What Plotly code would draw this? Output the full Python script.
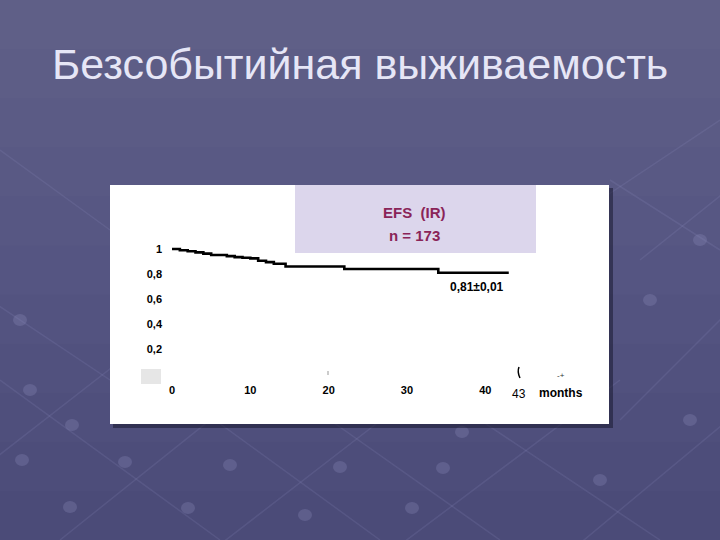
import plotly.graph_objects as go

# ---- data ----
months = [0, 1, 2, 3, 4, 5, 7, 8, 9, 10, 11, 12, 13, 14.5, 22, 34, 43]
efs = [1.0, 0.99, 0.982, 0.973, 0.963, 0.952, 0.943, 0.935, 0.93, 0.925,
       0.906, 0.895, 0.882, 0.86, 0.84, 0.81, 0.81]
x_ticks = [0, 10, 20, 30, 40]
y_ticks = [0.2, 0.4, 0.6, 0.8, 1.0]
y_ticktext = ["0,2", "0,4", "0,6", "0,8", "1"]
title_text = "Безсобытийная выживаемость"
box_line1 = "EFS\u00a0\u00a0(IR)"
box_line2 = "n = 173"
final_label = "0,81±0,01"

W, H = 720, 540
def px(x):
    return x / W
def py(y):
    return (H - y) / H

FONT = "Liberation Sans, Arial, sans-serif"

fig = go.Figure()
fig.add_trace(go.Scatter(x=months, y=efs, mode="lines", line=dict(color="black", width=2.6, shape="hv"),
                         showlegend=False, hoverinfo="skip"))

shapes = []
# soft vertical gradient on the slide background
for k in range(1, 11):
    shapes.append(dict(type="rect", xref="paper", yref="paper", x0=0, y0=py(H * k / 11), x1=1, y1=1,
                       fillcolor="rgba(255,255,255,0.014)", line=dict(width=0), layer="below"))
# decorative lattice on background
line_col = "rgba(150,150,200,0.16)"
for (x0, y0, x1, y1) in [
    (-20, 470, 160, 330), (60, 540, 260, 380), (200, 560, 420, 390), (380, 560, 620, 380),
    (560, 560, 740, 410), (620, 420, 740, 300), (640, 260, 740, 180), (600, 200, 720, 120),
    (0, 380, 220, 540), (160, 380, 380, 540), (330, 420, 500, 540), (480, 420, 660, 540),
    (-10, 300, 110, 380), (0, 150, 110, 230), (610, 180, 720, 250),
]:
    shapes.append(dict(type="line", xref="paper", yref="paper", x0=px(x0), y0=py(y0), x1=px(x1), y1=py(y1),
                       line=dict(color=line_col, width=1.5), layer="below"))
for (cx, cy) in [(30, 390), (72, 425), (22, 460), (125, 462), (70, 507), (188, 508), (230, 465),
                 (340, 467), (305, 515), (412, 508), (443, 468), (487, 393), (462, 432), (600, 480),
                 (690, 420), (700, 240), (650, 300), (20, 320)]:
    shapes.append(dict(type="circle", xref="paper", yref="paper", x0=px(cx - 7), y0=py(cy - 6),
                       x1=px(cx + 7), y1=py(cy + 6), fillcolor="rgba(140,140,185,0.3)",
                       line=dict(width=0), layer="below"))
# shadow + white panel
shapes.append(dict(type="rect", xref="paper", yref="paper", x0=px(113), y0=py(428), x1=px(613), y1=py(188),
                   fillcolor="rgba(30,30,55,0.6)", line=dict(width=0), layer="below"))
shapes.append(dict(type="rect", xref="paper", yref="paper", x0=px(110), y0=py(424), x1=px(609), y1=py(185),
                   fillcolor="white", line=dict(width=0), layer="below"))
# lavender title box
shapes.append(dict(type="rect", xref="paper", yref="paper", x0=px(295), y0=py(253), x1=px(536), y1=py(185),
                   fillcolor="#dcd6ec", line=dict(width=0), layer="below"))
# small grey square
shapes.append(dict(type="rect", xref="paper", yref="paper", x0=px(141), y0=py(384), x1=px(161), y1=py(369),
                   fillcolor="#e6e6e6", line=dict(width=0), layer="below"))
# tiny marks
shapes.append(dict(type="line", xref="paper", yref="paper", x0=px(328), y0=py(371), x1=px(328), y1=py(375),
                   line=dict(color="#999999", width=1)))
shapes.append(dict(type="path", xref="paper", yref="paper",
                   path=f"M {px(519)},{py(367)} Q {px(517)},{py(372)} {px(520)},{py(378)}",
                   line=dict(color="black", width=1.5)))

def ann(text, x, y, size, color="black", weight="normal", **kw):
    d = dict(text=text, x=x, y=y, xref="paper", yref="paper", showarrow=False,
             xanchor="center", yanchor="middle",
             font=dict(family=FONT, size=size, color=color, weight=weight))
    d.update(kw)
    return d

annotations = [
    ann(title_text, px(360), py(64), 43, color="#e6e6f6"),
    ann(box_line1, px(415), py(212), 15, color="#8a2458", weight="bold"),
    ann(box_line2, px(415), py(235), 15, color="#8a2458", weight="bold"),
    dict(text=final_label, x=34 + 4.9, y=0.81, xref="x", yref="y", yshift=-14, showarrow=False,
         xanchor="center", yanchor="middle",
         font=dict(family=FONT, size=12, color="black", weight="bold")),
    ann("43", px(519), py(394), 12),
    ann("months", px(561), py(393), 12, weight="bold"),
    ann("-+", px(561), py(375), 8, color="#333333"),
]

fig.update_layout(
    width=W, height=H, margin=dict(l=0, r=0, t=0, b=0),
    paper_bgcolor="#4b4b78", plot_bgcolor="rgba(0,0,0,0)",
    shapes=shapes, annotations=annotations, showlegend=False,
    xaxis=dict(domain=[px(110), px(609)], range=[-7.92, 55.8], anchor="free", position=py(382),
               tickvals=x_ticks, ticks="", showgrid=False, zeroline=False, showline=False,
               tickfont=dict(family=FONT, size=11, color="black", weight="bold")),
    yaxis=dict(domain=[py(424), py(185)], range=[-0.4, 1.512], anchor="free", position=px(162),
               tickvals=y_ticks, ticktext=y_ticktext, ticks="", showgrid=False, zeroline=False, showline=False,
               tickfont=dict(family=FONT, size=11, color="black", weight="bold")),
)

fig.write_html("out.html", config={"displayModeBar": False},
               post_script="document.body.style.margin='0';document.body.style.padding='0';"
                           "document.body.style.overflow='hidden';")
